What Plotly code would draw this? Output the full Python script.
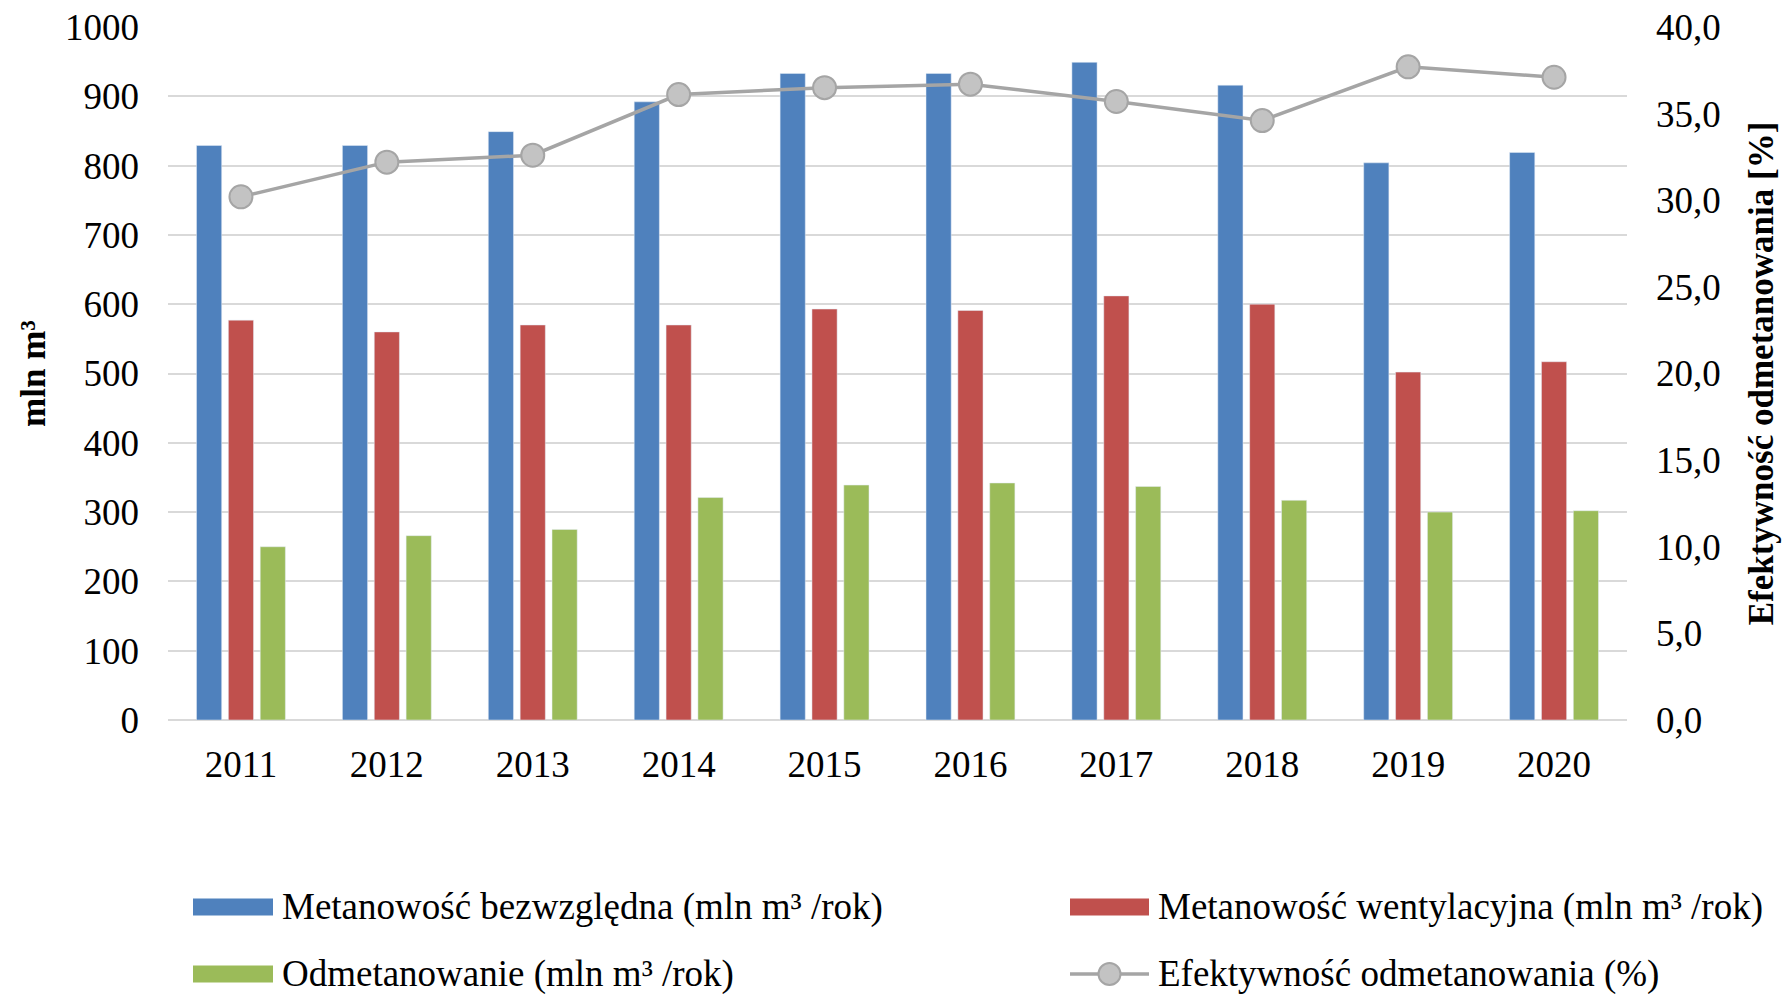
import plotly.graph_objects as go

# --- data -------------------------------------------------------------
years = ["2011", "2012", "2013", "2014", "2015", "2016", "2017", "2018", "2019", "2020"]
metanowosc_bezwzgledna = [829, 829, 849, 892, 933, 933, 949, 916, 804, 819]
metanowosc_wentylacyjna = [577, 560, 570, 570, 593, 591, 612, 600, 502, 517]
odmetanowanie = [250, 266, 275, 321, 339, 342, 337, 317, 300, 302]
efektywnosc = [30.2, 32.2, 32.6, 36.1, 36.5, 36.7, 35.7, 34.6, 37.7, 37.1]

legend_labels = [
    "Metanowość bezwzględna (mln m³ /rok)",
    "Metanowość wentylacyjna (mln m³ /rok)",
    "Odmetanowanie (mln m³ /rok)",
    "Efektywność odmetanowania (%)",
]

# --- styling ----------------------------------------------------------
BLUE = "#4F81BD"
RED = "#C0504D"
GREEN = "#9BBB59"
LINE_GREY = "#A5A5A5"
MARKER_GREY = "#C3C3C3"
GRID = "#D9D9D9"
FONT = "Liberation Serif, Times New Roman, serif"

W, H = 1784, 994
ML, MR, MT, MB = 168, 157, 27, 274
PW, PH = W - ML - MR, H - MT - MB


def px_x(x):
    """pixel column -> paper x"""
    return (x - ML) / PW


def px_y(y):
    """pixel row -> paper y"""
    return (H - MB - y) / PH


fig = go.Figure()

fig.add_trace(go.Bar(x=years, y=metanowosc_bezwzgledna, marker_color=BLUE,
                     name=legend_labels[0], showlegend=False))
fig.add_trace(go.Bar(x=years, y=metanowosc_wentylacyjna, marker_color=RED,
                     name=legend_labels[1], showlegend=False))
fig.add_trace(go.Bar(x=years, y=odmetanowanie, marker_color=GREEN,
                     name=legend_labels[2], showlegend=False))
fig.add_trace(go.Scatter(
    x=years, y=efektywnosc, yaxis="y2", mode="lines+markers",
    line=dict(color=LINE_GREY, width=3.5),
    marker=dict(size=23, color=MARKER_GREY, line=dict(color=LINE_GREY, width=2)),
    name=legend_labels[3], showlegend=False,
))

# --- hand-built legend (two columns, wide swatches) ------------------
shapes = []
annotations = []
rows = [907, 974]
cols = [(193, 273, 280), (1070, 1149, 1156)]
entries = [(0, 0, BLUE), (0, 1, RED), (1, 0, GREEN), (1, 1, None)]
for i, (r, c, color) in enumerate(entries):
    x0, x1, xt = cols[c]
    yc = rows[r]
    if color is not None:
        shapes.append(dict(type="rect", xref="paper", yref="paper",
                           x0=px_x(x0), x1=px_x(x1), y0=px_y(yc + 8.5), y1=px_y(yc - 8.5),
                           fillcolor=color, line=dict(width=0)))
    else:
        shapes.append(dict(type="line", xref="paper", yref="paper",
                           x0=px_x(x0), x1=px_x(x1), y0=px_y(yc), y1=px_y(yc),
                           line=dict(color=LINE_GREY, width=3.5)))
        xm = (x0 + x1) / 2
        shapes.append(dict(type="circle", xref="paper", yref="paper",
                           x0=px_x(xm - 11), x1=px_x(xm + 11),
                           y0=px_y(yc + 11), y1=px_y(yc - 11),
                           fillcolor=MARKER_GREY, line=dict(color=LINE_GREY, width=2)))
    annotations.append(dict(text=legend_labels[i], xref="paper", yref="paper",
                            x=px_x(xt), y=px_y(yc), xanchor="left", yanchor="middle",
                            showarrow=False, font=dict(family=FONT, size=37, color="#000")))

fig.update_layout(
    width=W, height=H,
    margin=dict(l=ML, r=MR, t=MT, b=MB, pad=0, autoexpand=False),
    paper_bgcolor="white", plot_bgcolor="white",
    separators=", ",
    barmode="group", bargap=0.345, bargroupgap=0.21,
    font=dict(family=FONT, size=37, color="#000"),
    shapes=shapes, annotations=annotations,
    xaxis=dict(
        type="category", range=[-0.5, len(years) - 0.5],
        showgrid=False, showline=False, zeroline=False,
        ticks="", ticklabelstandoff=19, automargin=False,
        tickfont=dict(family=FONT, size=37, color="#000"),
    ),
    yaxis=dict(
        range=[0, 1000], dtick=100, tick0=0, automargin=False,
        showgrid=True, gridcolor=GRID, gridwidth=2,
        zeroline=True, zerolinecolor=GRID, zerolinewidth=2,
        showline=False, ticks="", ticklabelstandoff=28,
        tickfont=dict(family=FONT, size=37, color="#000"),
        title=dict(text="<b>mln m³</b>", standoff=8,
                   font=dict(family=FONT, size=35, color="#000")),
    ),
    yaxis2=dict(
        overlaying="y", side="right", automargin=False,
        range=[0, 40], dtick=5, tick0=0, tickformat=".1f",
        showgrid=False, zeroline=False, showline=False,
        ticks="", ticklabelstandoff=28,
        tickfont=dict(family=FONT, size=37, color="#000"),
        title=dict(text="<b>Efektywność odmetanowania [%]</b>", standoff=28,
                   font=dict(family=FONT, size=35, color="#000")),
    ),
)

fig.write_html("out.html")
